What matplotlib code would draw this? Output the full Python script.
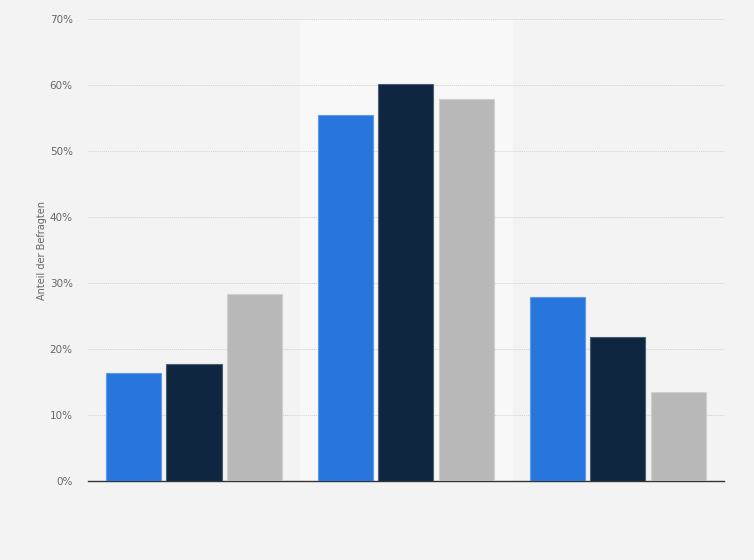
import numpy as np
import matplotlib.pyplot as plt
from matplotlib.ticker import FuncFormatter

groups = ['', '', '']
series1 = [16.3, 55.4, 27.9]
series2 = [17.7, 60.2, 21.8]
series3 = [28.4, 57.9, 13.5]
colors = ['#2876dd', '#0f2640', '#b8b8b8']
edges = ['#5e9ae8', '#4a5d73', '#cfcfcf']

fig = plt.figure(figsize=(7.54, 5.6), dpi=100, facecolor='#f3f3f3')
ax = fig.add_axes([0.1167, 0.141, 0.8433, 0.825])
ax.set_facecolor('#f3f3f3')

x = np.arange(len(groups))
ax.axvspan(0.5, 1.5, color='#f8f8f8', zorder=0)

w = 0.26
step = 0.285
for i, vals in enumerate([series1, series2, series3]):
    ax.bar(x + (i - 1) * step, vals, width=w, color=colors[i],
           edgecolor=edges[i], linewidth=0.8, zorder=3)

ax.set_xlim(-0.5, 2.5)
ax.set_ylim(0, 70)
ax.set_yticks(np.arange(0, 71, 10))
ax.yaxis.set_major_formatter(FuncFormatter(lambda v, p: f'{int(v)}%'))
ax.set_xticks([])
ax.grid(axis='y', color='#d0d0d0', linestyle=(0, (1, 1)), linewidth=0.7, zorder=1)
for s in ['top', 'right', 'left']:
    ax.spines[s].set_visible(False)
ax.spines['bottom'].set_color('#333333')
ax.spines['bottom'].set_linewidth(1.0)
ax.tick_params(axis='y', length=0, labelsize=7.5, labelcolor='#666666', pad=11)
ax.set_ylabel('Anteil der Befragten', fontsize=7, color='#666666', labelpad=2)

plt.savefig('out.png', dpi=100, facecolor=fig.get_facecolor())
